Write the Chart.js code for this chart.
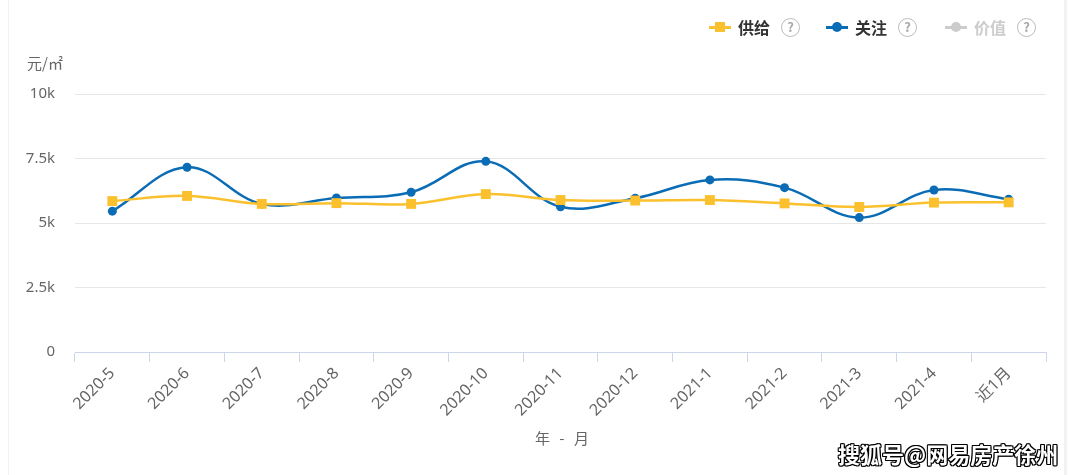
<!DOCTYPE html>
<html><head><meta charset="utf-8">
<script src="https://cdn.jsdelivr.net/npm/chart.js@4"></script>
<style>
html,body{margin:0;padding:0;background:#fff;width:1080px;height:475px;overflow:hidden;font-family:"Noto Sans CJK SC","Noto Sans",sans-serif;}
#wrap{position:absolute;left:0;top:0;width:1080px;height:475px;}
#c{position:absolute;left:0;top:0;}
.lb{position:absolute;top:14px;height:26px;display:flex;align-items:center;font-size:16px;font-weight:bold;color:#333;}
.sym{position:relative;width:22px;height:3px;margin-right:7px;}
.sym i{position:absolute;left:6px;top:-4px;width:10px;height:10px;}
.q{display:inline-block;box-sizing:border-box;width:19px;height:19px;border:1.5px solid #bbb;border-radius:50%;color:#aaa;font-size:13px;font-weight:bold;line-height:16px;text-align:center;margin-left:11px;}
.t{position:absolute;color:#666;font-size:14px;}
#wm{position:absolute;left:838px;top:437px;font-size:22px;color:#fff;font-weight:bold;letter-spacing:0px;
 text-shadow:-1px -1px 0 #000,1px -1px 0 #000,-1px 1px 0 #000,1px 1px 0 #000,0 1px 0 #000,0 -1px 0 #000,1px 0 0 #000,-1px 0 0 #000;}
#bl{position:absolute;left:8px;top:0;width:1px;height:475px;background:#f2f2f2;}
#br{position:absolute;left:1064px;top:0;width:3px;height:475px;background:#f2f2f2;}
</style></head>
<body><div id="wrap">
<canvas id="c" width="1080" height="475"></canvas>
<div id="bl"></div><div id="br"></div>
<div class="lb" style="left:709px"><div class="sym" style="background:#fbc02d"><i style="background:#fbc02d"></i></div>供给<span class="q">?</span></div>
<div class="lb" style="left:826px"><div class="sym" style="background:#0b6cb6"><i style="background:#0b6cb6;border-radius:50%"></i></div>关注<span class="q">?</span></div>
<div class="lb" style="left:945px;color:#ccc"><div class="sym" style="background:#ccc"><i style="background:#ccc;border-radius:50%"></i></div>价值<span class="q">?</span></div>
<div class="t" style="left:27px;top:52px;font-size:15px;">元/㎡</div>
<div class="t" style="left:535px;top:427px;font-size:15px;letter-spacing:3px;">年 - 月</div>
<div id="wm">搜狐号@网易房产徐州</div>
</div>
<script>
const categories = ["2020-5","2020-6","2020-7","2020-8","2020-9","2020-10","2020-11","2020-12","2021-1","2021-2","2021-3","2021-4","近1月"];
const supply = [5850,6050,5740,5770,5740,6120,5890,5870,5890,5760,5620,5790,5800];
const attention = [5460,7160,5740,5970,6190,7390,5630,5960,6670,6370,5210,6280,5920];
const yTicks = [0,2500,5000,7500,10000];

new Chart(document.getElementById('c'), {
  type: 'line',
  data: {
    labels: categories,
    datasets: [
      {label:'供给', data: supply, borderColor:'#fbc02d', backgroundColor:'#fbc02d', borderWidth:2.5,
       pointStyle:'rect', pointRadius:7, pointHoverRadius:7, pointBorderWidth:0, tension:0.38, fill:false},
      {label:'关注', data: attention, borderColor:'#0b6cb6', backgroundColor:'#0b6cb6', borderWidth:2.5,
       pointStyle:'circle', pointRadius:4.5, pointHoverRadius:4.5, pointBorderWidth:0, tension:0.38, fill:false}
    ]
  },
  options: {
    responsive:false, animation:false,
    layout:{padding:{left:0,right:34,top:94,bottom:0}},
    plugins:{legend:{display:false}, tooltip:{enabled:false}},
    scales:{
      x:{
        offset:true,
        grid:{offset:true, drawOnChartArea:false, drawTicks:true, tickLength:10, color:'#ccd6eb'},
        border:{color:'#ccd6eb', width:1},
        ticks:{color:'#666', font:{size:16, family:'"Noto Sans","Noto Sans CJK SC",sans-serif'}, maxRotation:45, minRotation:45, padding:2, autoSkip:false},
        afterFit(s){ s.height = 123; }
      },
      y:{
        min:0, max:10000,
        afterBuildTicks(s){ s.ticks = yTicks.map(v=>({value:v})); },
        grid:{color:'#e6e6e6', drawTicks:false},
        border:{display:false},
        ticks:{color:'#666', padding:20, font:{size:15, family:'"Noto Sans","Noto Sans CJK SC",sans-serif'},
          callback:(v)=> v===0 ? '0' : (v/1000)+'k'},
        afterFit(s){ s.width = 75; }
      }
    }
  }
});
</script>
</body></html>
